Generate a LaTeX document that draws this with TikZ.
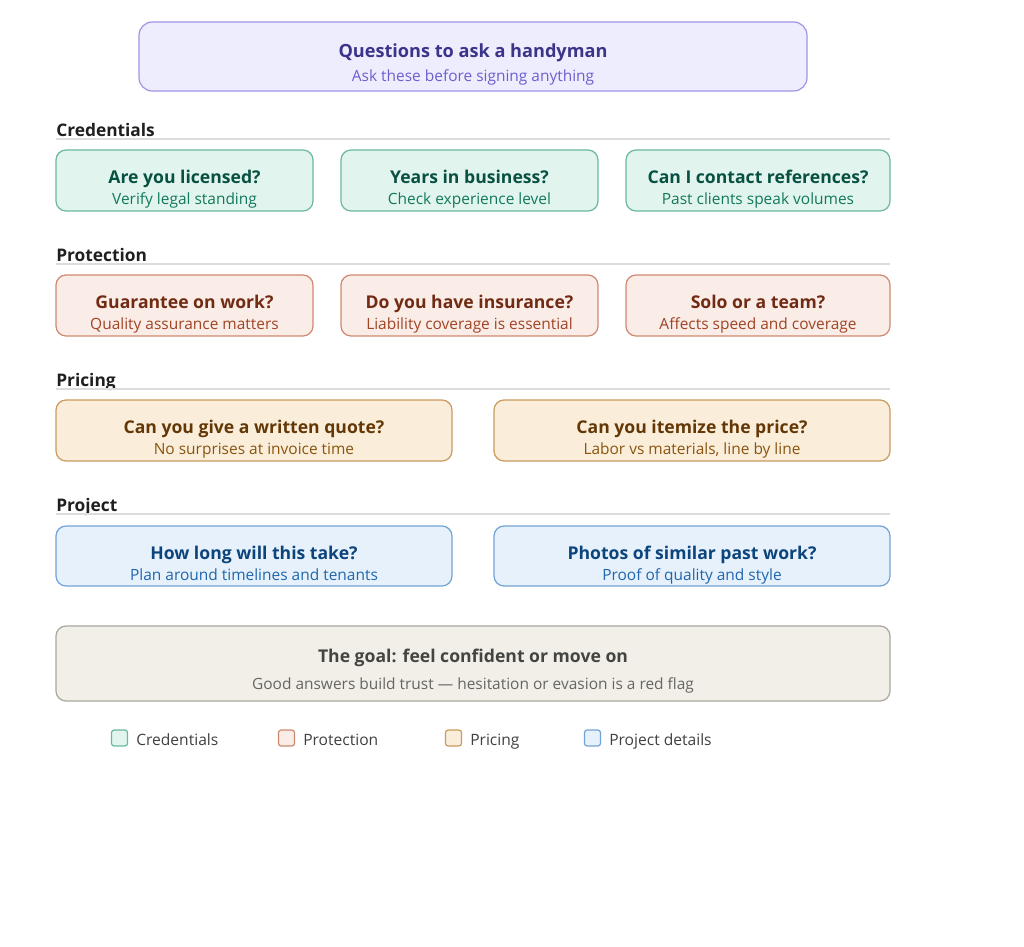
\documentclass[tikz,border=0pt]{standalone}
\usepackage{fontspec}
\setmainfont{Open Sans}
\definecolor{tfill}{HTML}{EEEDFE}
\definecolor{tdraw}{HTML}{9E94E6}
\definecolor{ttext}{HTML}{3C3489}
\definecolor{tsub}{HTML}{6B5FD0}
\definecolor{gfill}{HTML}{E1F5EE}
\definecolor{gdraw}{HTML}{6BB89C}
\definecolor{gtext}{HTML}{085041}
\definecolor{gsub}{HTML}{12785C}
\definecolor{rfill}{HTML}{FAECE7}
\definecolor{rdraw}{HTML}{CF8970}
\definecolor{rtext}{HTML}{712B13}
\definecolor{rsub}{HTML}{A04424}
\definecolor{ofill}{HTML}{FAEEDA}
\definecolor{odraw}{HTML}{C99B5E}
\definecolor{otext}{HTML}{633806}
\definecolor{osub}{HTML}{8A540E}
\definecolor{bfill}{HTML}{E6F1FB}
\definecolor{bdraw}{HTML}{72A3D6}
\definecolor{btext}{HTML}{0C447C}
\definecolor{bsub}{HTML}{1F66AE}
\definecolor{nfill}{HTML}{F1EFE8}
\definecolor{ndraw}{HTML}{A9A79F}
\definecolor{ntext}{HTML}{444441}
\definecolor{nsub}{HTML}{66655F}
\definecolor{hline}{HTML}{DCDCDC}
\tikzset{
  box/.style={draw, line width=0.9pt, rounded corners=7.5pt, inner sep=0pt},
  qtitle/.style={font=\bfseries\fontsize{13.2}{15}\selectfont, inner sep=0pt, anchor=base},
  qsub/.style={font=\fontsize{11.6}{13}\selectfont, inner sep=0pt, anchor=base},
  sechead/.style={font=\bfseries\fontsize{13}{15}\selectfont, text=black!88, anchor=base west, inner sep=0pt},
  secline/.style={draw=hline, line width=0.9pt},
  legsq/.style={draw, line width=0.9pt, rounded corners=2pt, minimum width=12pt, minimum height=12pt, inner sep=0pt},
  legtext/.style={font=\fontsize{11.7}{13}\selectfont, text=black!75, anchor=base west, inner sep=0pt},
}
% name, x1, y1, x2, y2, color prefix, title, sub
\newcommand{\qbox}[8]{%
  \node[box, draw=#6draw, fill=#6fill, minimum width={(#4-#2)*0.75pt}, minimum height={(#5-#3)*0.75pt}] (#1) at ({(#2+#4)/2},{(#3+#5)/2}) {};
  \node[qtitle, text=#6text] (#1t) at ({(#2+#4)/2},{#3+33}) {#7};
  \node[qsub, text=#6sub] (#1s) at ({(#2+#4)/2},{#3+54.5}) {#8};
}
\begin{document}
\begin{tikzpicture}[x=0.75pt,y=-0.75pt]
\useasboundingbox[fill=white] (0,0) rectangle (1024,946);
% title
\node[box, rounded corners=10pt, draw=tdraw, fill=tfill, minimum width={668*0.75pt}, minimum height={69*0.75pt}] (title) at (473,56.5) {};
\node[qtitle, font=\bfseries\fontsize{13.6}{16}\selectfont, text=ttext] (titlet) at (473,57.5) {Questions to ask a handyman};
\node[qsub, text=tsub] (titles) at (473,81.5) {Ask these before signing anything};
% sections
\node[sechead] (h1) at (56,136) {Credentials};
\draw[secline] (56,139) -- (890,139);
\node[sechead] (h2) at (56,261) {Protection};
\draw[secline] (56,264) -- (890,264);
\node[sechead] (h3) at (56,386) {Pricing};
\draw[secline] (56,389) -- (890,389);
\node[sechead] (h4) at (56,511) {Project};
\draw[secline] (56,514) -- (890,514);
% row 1
\qbox{c1}{56}{150}{313}{211}{g}{Are you licensed?}{Verify legal standing}
\qbox{c2}{341}{150}{598}{211}{g}{Years in business?}{Check experience level}
\qbox{c3}{626}{150}{890}{211}{g}{Can I contact references?}{Past clients speak volumes}
% row 2
\qbox{p1}{56}{275}{313}{336}{r}{Guarantee on work?}{Quality assurance matters}
\qbox{p2}{341}{275}{598}{336}{r}{Do you have insurance?}{Liability coverage is essential}
\qbox{p3}{626}{275}{890}{336}{r}{Solo or a team?}{Affects speed and coverage}
% row 3
\qbox{r1}{56}{400}{452}{461}{o}{Can you give a written quote?}{No surprises at invoice time}
\qbox{r2}{494}{400}{890}{461}{o}{Can you itemize the price?}{Labor vs materials, line by line}
% row 4
\qbox{j1}{56}{526}{452}{586}{b}{How long will this take?}{Plan around timelines and tenants}
\qbox{j2}{494}{526}{890}{586}{b}{Photos of similar past work?}{Proof of quality and style}
% goal
\node[box, draw=ndraw, fill=nfill, minimum width={834*0.75pt}, minimum height={75*0.75pt}] (goal) at (473,663.5) {};
\node[qtitle, text=ntext] (goalt) at (473,662) {The goal: feel confident or move on};
\node[qsub, text=nsub] (goals) at (473,689.5) {Good answers build trust — hesitation or evasion is a red flag};
% legend
\node[legsq, draw=gdraw, fill=gfill] (l1) at (119.5,738) {};
\node[legtext] (l1t) at (136,745) {Credentials};
\node[legsq, draw=rdraw, fill=rfill] (l2) at (286.5,738) {};
\node[legtext] (l2t) at (303,745) {Protection};
\node[legsq, draw=odraw, fill=ofill] (l3) at (453.5,738) {};
\node[legtext] (l3t) at (470,745) {Pricing};
\node[legsq, draw=bdraw, fill=bfill] (l4) at (592.5,738) {};
\node[legtext] (l4t) at (609,745) {Project details};
\end{tikzpicture}
\end{document}
